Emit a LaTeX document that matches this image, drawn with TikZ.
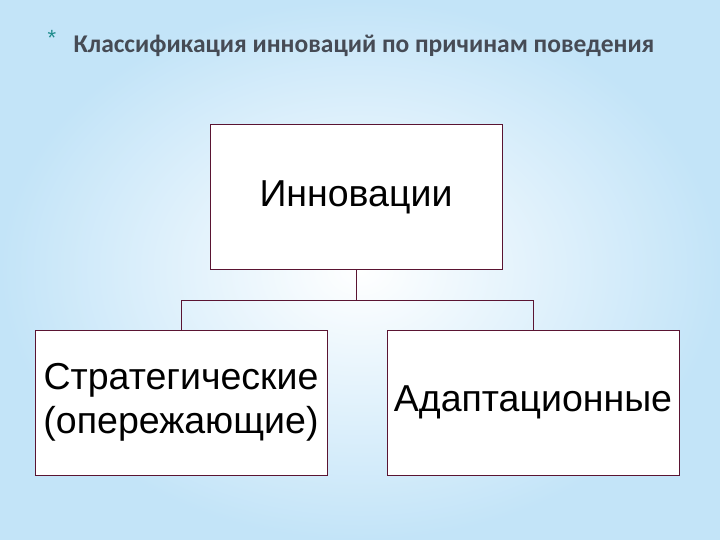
\documentclass[tikz,border=0pt]{standalone}
\usepackage{fontspec}
\setmainfont{Liberation Sans}
\newfontfamily\titlefont{Carlito}
\definecolor{edge}{RGB}{90,20,50}
\definecolor{bgblue}{RGB}{195,228,248}
\definecolor{titlec}{RGB}{70,75,85}
\definecolor{teal}{RGB}{30,140,140}
\begin{document}
\begin{tikzpicture}[x=1pt,y=-1pt,
  box/.style={draw=edge,line width=0.8pt,fill=white,minimum width=292pt,minimum height=145pt,inner sep=0pt,font=\fontsize{37.5}{44}\selectfont,align=center},
  conn/.style={draw=edge,line width=0.8pt}]
\shade[inner color=white,outer color=bgblue] (0,0) rectangle (720,540);
\useasboundingbox (0,0) rectangle (720,540);
\node[text=teal,font=\fontsize{22}{22}\selectfont] (star) at (52,38) {*};
\node[anchor=west,text=titlec,font=\titlefont\fontsize{25.5}{30}\selectfont\bfseries] (title) at (70,46) {Классификация инноваций по причинам поведения};
\node[box] (top) at (356,197) {Инновации};
\node[box] (l) at (181,402.5) {Стратегические\\(опережающие)};
\node[box] (r) at (533,402.5) {Адаптационные};
\coordinate (m) at (356,300);
\draw[conn] (top.south) -- (m) -| (l.north);
\draw[conn] (m) -| (r.north);
\end{tikzpicture}
\end{document}
